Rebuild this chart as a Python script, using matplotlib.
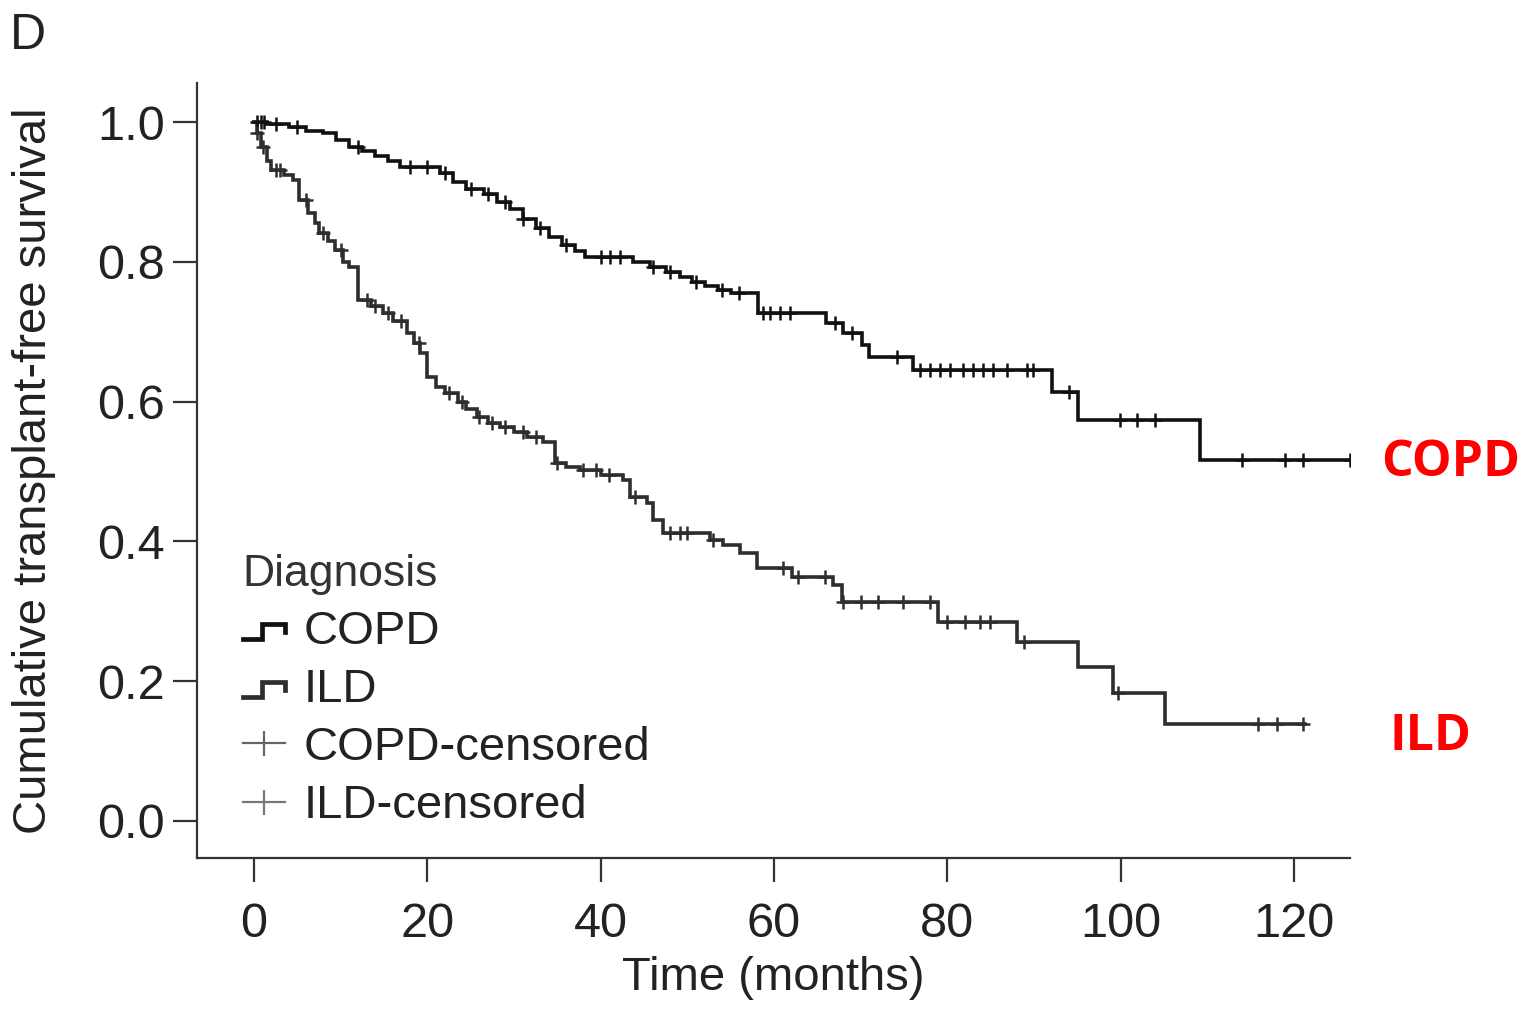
import numpy as np
import matplotlib
matplotlib.use("Agg")
import matplotlib.pyplot as plt
from matplotlib.lines import Line2D
from matplotlib.legend_handler import HandlerBase

plt.rcParams['font.family'] = ['Liberation Sans', 'DejaVu Sans']

# ---------------- data ----------------
copd_time = [0, 1.5, 4, 6, 8, 9.5, 11, 12.5, 14, 15.5, 16.8, 21.5, 23, 24.5, 26.5, 28,
             29.5, 31, 32.5, 34, 35.5, 37, 38.2, 43.7, 45.7, 47.5, 49.2, 50.5, 52, 53.5,
             55, 58.2, 66, 68, 70.2, 71, 76, 92.1, 95.1, 109.2, 126.5]
copd_surv = [1.0, 0.997, 0.993, 0.988, 0.984, 0.975, 0.965, 0.958, 0.951, 0.945, 0.936,
             0.927, 0.915, 0.905, 0.897, 0.886, 0.875, 0.862, 0.848, 0.835, 0.824, 0.815,
             0.807, 0.800, 0.793, 0.786, 0.779, 0.771, 0.765, 0.760, 0.755, 0.727, 0.712,
             0.698, 0.681, 0.664, 0.645, 0.614, 0.574, 0.516, 0.516]
copd_censored = [0.3, 0.8, 1.2, 2.5, 5, 12, 18, 20, 22, 25, 27, 29, 31, 33, 36, 40, 41.1,
                 42.2, 46, 48, 51, 54, 56, 58.7, 59.5, 60.7, 61.8, 67, 69, 74.2, 76.8, 78,
                 79.2, 80.3, 81.8, 83, 84.1, 85.3, 86.9, 89.2, 89.9, 94, 99.9, 101.9, 104,
                 114, 119, 121, 126.5]

ild_time = [0, 0.3, 0.8, 1.5, 2, 3.5, 4.5, 5.2, 6.2, 7, 7.5, 8.5, 9.3, 10.3, 11, 12, 13.5,
            14.9, 16, 17.7, 18.5, 19.2, 20, 21, 22, 23.5, 24.5, 25.7, 27, 28.4, 30, 31.5,
            33.3, 34.7, 36, 37.6, 40, 42.6, 43.4, 45.3, 46, 47.2, 52.6, 54.1, 56.1, 58,
            62.1, 66.8, 67.8, 78.9, 88, 95.1, 99.1, 105.1, 121.3]
ild_surv = [1.0, 0.984, 0.964, 0.945, 0.931, 0.925, 0.917, 0.888, 0.870, 0.855, 0.841,
            0.830, 0.817, 0.800, 0.793, 0.745, 0.737, 0.727, 0.716, 0.698, 0.684, 0.670,
            0.635, 0.621, 0.612, 0.600, 0.590, 0.578, 0.570, 0.564, 0.556, 0.549, 0.542,
            0.512, 0.507, 0.502, 0.495, 0.488, 0.464, 0.455, 0.431, 0.412, 0.402, 0.395,
            0.383, 0.362, 0.349, 0.338, 0.313, 0.285, 0.256, 0.220, 0.183, 0.139, 0.139]
ild_censored = [0.3, 1, 2.5, 3, 6, 8, 10, 13, 14, 15.5, 17, 19, 22.5, 24, 26, 27.5, 29, 31,
                32.5, 35, 38, 39.5, 41, 44, 48, 49.2, 50, 53, 61, 62.8, 65.9, 68, 70, 72,
                74.9, 78, 80, 82, 83.8, 84.9, 88.8, 99.7, 115.8, 118, 121]

x_ticks = [0, 20, 40, 60, 80, 100, 120]
y_ticks = [0.0, 0.2, 0.4, 0.6, 0.8, 1.0]
y_ticklabels = ["0.0", "0.2", "0.4", "0.6", "0.8", "1.0"]
legend_labels = ["COPD", "ILD", "COPD-censored", "ILD-censored"]

# ---------------- figure ----------------
W, H = 1527, 1009
fig = plt.figure(figsize=(W / 100, H / 100), dpi=100)
ax = fig.add_axes([197 / W, 1 - 858 / H, (1350 - 197) / W, (858 - 83) / H])

copd_col = '#111111'
ild_col = '#2e2e2e'
lw = 2.6

def step_value(times, surv, t):
    idx = np.searchsorted(times, t, side='right') - 1
    return np.asarray(surv)[idx]

ax.step(copd_time, copd_surv, where='post', color=copd_col, lw=lw, solid_joinstyle='miter')
ax.step(ild_time, ild_surv, where='post', color=ild_col, lw=lw, solid_joinstyle='miter')

ax.plot(copd_censored, step_value(copd_time, copd_surv, copd_censored), ls='none',
        marker='+', ms=10, mew=1.8, color=copd_col)
ax.plot(ild_censored, step_value(ild_time, ild_surv, ild_censored), ls='none',
        marker='+', ms=10, mew=1.8, color=ild_col)

ax.set_xlim(-6.58, 126.46)
ax.set_ylim(-0.053, 1.056)
ax.set_xticks(x_ticks)
ax.set_yticks(y_ticks)
ax.set_yticklabels(y_ticklabels)

for s in ['top', 'right']:
    ax.spines[s].set_visible(False)
for s in ['left', 'bottom']:
    ax.spines[s].set_linewidth(1.6)
    ax.spines[s].set_color('#333333')
ax.tick_params(axis='both', direction='out', length=17, width=1.6, color='#333333',
               labelsize=35, labelcolor='#222222')
ax.tick_params(axis='x', pad=15)
ax.tick_params(axis='y', pad=6)

ax.set_xlabel("Time (months)", fontsize=34, color='#222222', labelpad=6)
ax.set_ylabel("Cumulative transplant-free survival", fontsize=34, color='#222222',
              labelpad=30)

# ---------------- legend ----------------
class StepHandler(HandlerBase):
    def create_artists(self, legend, orig_handle, xdescent, ydescent, width, height,
                       fontsize, trans):
        w = width
        h = height
        xs = np.array([0, 0.45, 0.45, 1.0, 1.0]) * w - xdescent
        ys = np.array([0.15, 0.15, 0.6, 0.6, 0.35]) * h - ydescent
        ln = Line2D(xs, ys, color=orig_handle.get_color(), lw=3.4,
                    solid_joinstyle='miter', transform=trans)
        return [ln]

h_copd = Line2D([], [], color=copd_col)
h_ild = Line2D([], [], color=ild_col)
h_cc = Line2D([0], [0], color='#666666', lw=1.6, marker='|', ms=18, mew=1.6)
h_ic = Line2D([0], [0], color='#777777', lw=1.6, marker='|', ms=18, mew=1.6)

leg = ax.legend([h_copd, h_ild, h_cc, h_ic], legend_labels, title="Diagnosis",
                loc='lower left', bbox_to_anchor=(0.015, 0.002), frameon=False,
                fontsize=34, title_fontsize=32, handlelength=0.9, handletextpad=0.4,
                labelspacing=0.3, borderaxespad=0.2, numpoints=1,
                handler_map={h_copd: StepHandler(), h_ild: StepHandler()})
leg._legend_box.align = "left"
for t in leg.get_texts():
    t.set_color('#222222')
leg.get_title().set_color('#333333')

# ---------------- annotations ----------------
fig.text(10 / W, 1 - 13 / H, "D", fontsize=36, color='#222222', ha='left', va='top')
fig.text(1381 / W, 1 - 463 / H, "COPD", fontsize=36, fontweight='bold', color='#ff0000',
         family=['Open Sans', 'DejaVu Sans'], ha='left', va='center')
fig.text(1390 / W, 1 - 737 / H, "ILD", fontsize=36, fontweight='bold', color='#ff0000',
         family=['Open Sans', 'DejaVu Sans'], ha='left', va='center')

fig.savefig("out.png", dpi=100)
